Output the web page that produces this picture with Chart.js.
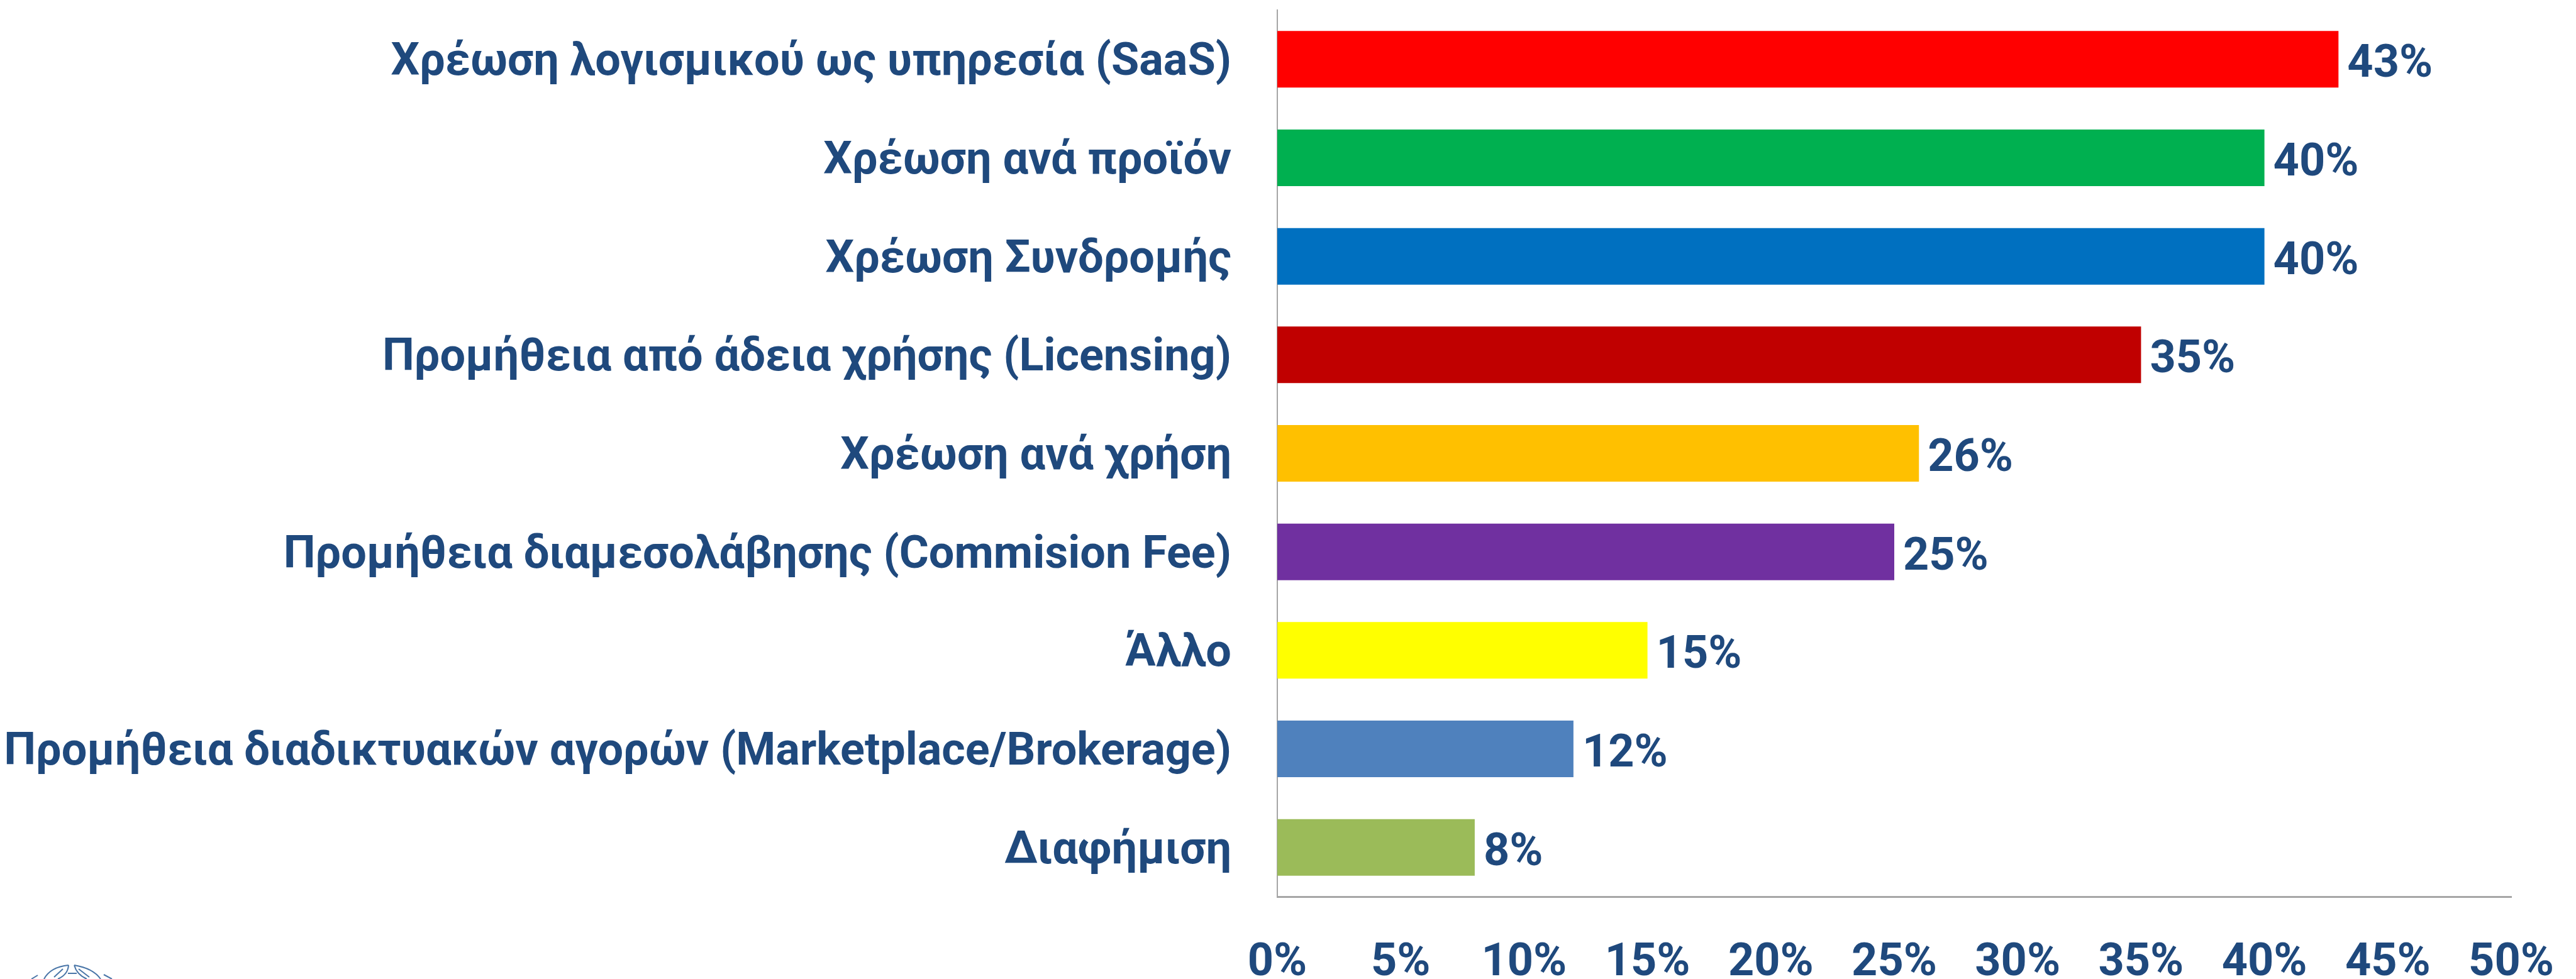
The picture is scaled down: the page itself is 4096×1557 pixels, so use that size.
<!DOCTYPE html>
<html><head><meta charset="utf-8">
<style>html,body{margin:0;padding:0;background:#fff}#w{width:4096px;height:1557px}canvas{display:block}</style>
<script src="https://cdn.jsdelivr.net/npm/chart.js@4"></script></head>
<body><div id="w"><canvas id="c" width="4096" height="1557"></canvas></div>
<script>
const categories=["Χρέωση λογισμικού ως υπηρεσία (SaaS)","Χρέωση ανά προϊόν","Χρέωση Συνδρομής","Προμήθεια από άδεια χρήσης (Licensing)","Χρέωση ανά χρήση","Προμήθεια διαμεσολάβησης (Commision Fee)","Άλλο","Προμήθεια διαδικτυακών αγορών (Marketplace/Brokerage)","Διαφήμιση"];
const values=[43,40,40,35,26,25,15,12,8];
const barColors=["#FF0000","#00B050","#0070C0","#C00000","#FFC000","#7030A0","#FFFF00","#4F81BD","#9BBB59"];
const textColor="#1F497D";
const fontFamily="Roboto";
const fontSize=72;
const valueLabels={id:'valueLabels',afterDatasetsDraw(ch){const c=ch.ctx;c.save();c.fillStyle=textColor;c.font=`bold ${fontSize}px ${fontFamily}`;c.textBaseline='middle';c.textAlign='left';
ch.getDatasetMeta(0).data.forEach((b,i)=>c.fillText(values[i]+'%',b.x+14,b.y+10));c.restore();}};
// nudge category labels down a little so they sit as in the reference
const labelNudge={id:'labelNudge',beforeDraw(ch){const s=ch.scales.y;if(s._nudged===s._labelItems&&s._nudged)return;
const items=s.getLabelItems(ch.chartArea);items.forEach(i=>{i.options.translation[1]+=7});s._nudged=items;}};
// cropped top of the wreath emblem, bottom-left corner of the page
const emblem={id:'emblem',afterDraw(ch){const c=ch.ctx;c.save();c.strokeStyle='#4A76A8';c.lineWidth=2;
c.beginPath();c.moveTo(109,1535);c.quadraticCurveTo(80,1538,70,1557);c.moveTo(109,1535);c.quadraticCurveTo(108,1550,92,1557);
c.moveTo(118,1535);c.quadraticCurveTo(148,1540,160,1557);c.moveTo(118,1535);c.quadraticCurveTo(122,1550,138,1557);
c.moveTo(108,1548);c.lineTo(122,1548);c.moveTo(100,1541);c.lineTo(86,1554);c.moveTo(125,1541);c.lineTo(142,1554);
c.moveTo(60,1551);c.lineTo(50,1557);c.moveTo(165,1550);c.lineTo(178,1557);c.stroke();c.restore();}};
Chart.defaults.animation=false;
new Chart(document.getElementById('c'),{type:'bar',plugins:[labelNudge,valueLabels,emblem],
data:{labels:categories,datasets:[{data:values,backgroundColor:barColors,barPercentage:0.574,categoryPercentage:1}]},
options:{indexAxis:'y',responsive:false,animation:false,layout:{padding:{top:16,right:103,left:0,bottom:0}},
plugins:{legend:{display:false},tooltip:{enabled:false}},
scales:{
x:{min:0,max:50,afterFit(s){s.height=131;s.paddingLeft=0;s.paddingRight=0},grid:{display:false,drawTicks:false},border:{display:true,color:'#A6A6A6',width:3},
ticks:{stepSize:5,autoSkip:false,maxRotation:0,padding:64,color:textColor,font:{family:fontFamily,size:fontSize,weight:'bold'},callback:v=>v+'%'}},
y:{afterFit(s){s.width=2031;s.paddingTop=0;s.paddingBottom=0},grid:{display:false,drawTicks:false},border:{display:true,color:'#A6A6A6',width:2},
ticks:{autoSkip:false,padding:73,color:textColor,font:{family:fontFamily,size:fontSize,weight:'bold'}}}
}}});
</script></body></html>
